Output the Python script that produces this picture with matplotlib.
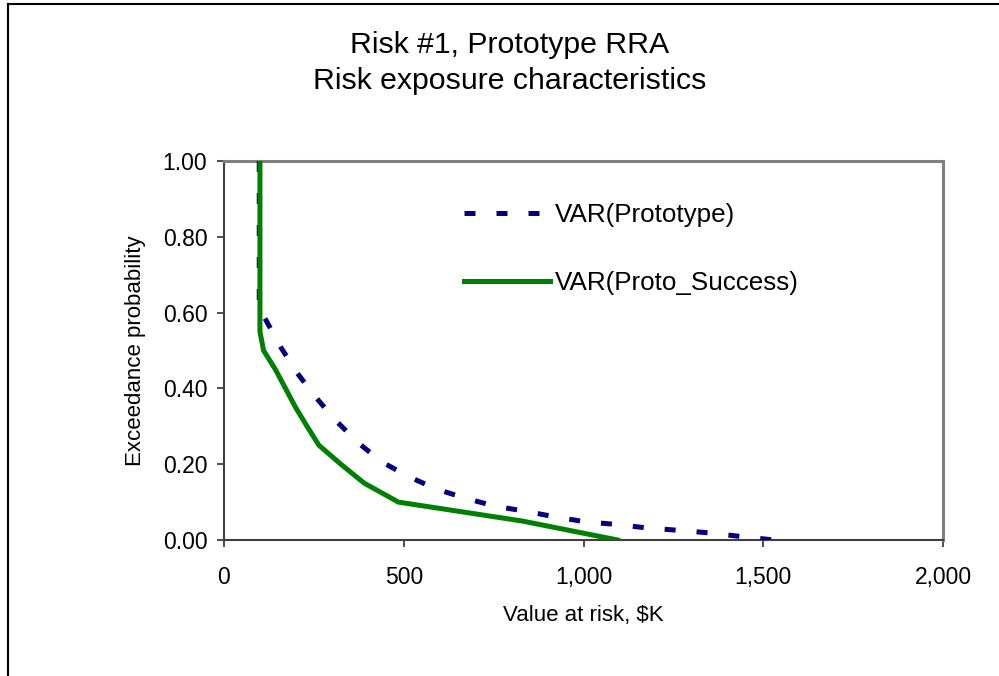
import matplotlib
matplotlib.use("Agg")
import matplotlib.pyplot as plt
from matplotlib.lines import Line2D

plt.rcParams["font.family"] = ["Liberation Sans", "DejaVu Sans"]

# ---------- data -----------------------------------------------------------
title_lines = ["Risk #1, Prototype RRA", "Risk exposure characteristics"]
x_label = "Value at risk, $K"
y_label = "Exceedance probability"

proto_label = "VAR(Prototype)"
proto_x = [98, 98, 111, 157, 204, 255, 310, 375, 439, 514, 592, 672, 755,
           838, 921, 1005, 1092, 1175, 1258, 1347, 1431, 1530]
proto_y = [1.00, 0.60, 0.59, 0.51, 0.44, 0.377, 0.316, 0.255, 0.206, 0.167,
           0.134, 0.110, 0.089, 0.076, 0.061, 0.048, 0.041, 0.032, 0.026,
           0.019, 0.010, 0.0]

success_label = "VAR(Proto_Success)"
success_x = [100, 100, 110, 143, 171, 199, 231, 264, 325, 390, 485, 830, 1095]
success_y = [1.00, 0.55, 0.50, 0.45, 0.40, 0.35, 0.30, 0.25, 0.20, 0.15,
             0.10, 0.05, 0.0]

x_ticks = [0, 500, 1000, 1500, 2000]
y_ticks = [0.0, 0.2, 0.4, 0.6, 0.8, 1.0]

# ---------- figure ---------------------------------------------------------
fig = plt.figure(figsize=(9.99, 6.76), dpi=100)
ax = fig.add_axes([224 / 999, 1 - 540 / 676, 719 / 999, 379 / 676])

(proto_line,) = ax.plot(proto_x, proto_y, color="#000080", lw=3.6,
                        dashes=(2.2, 4.2), dash_capstyle="butt", zorder=3)
(succ_line,) = ax.plot(success_x, success_y, color="#008000", lw=3.6,
                       solid_joinstyle="miter", zorder=4)

ax.set_xlim(0, 2000)
ax.set_ylim(0, 1)
ax.set_xticks(x_ticks)
ax.set_xticklabels([f"{v:,.0f}" for v in x_ticks])
ax.set_yticks(y_ticks)
ax.set_yticklabels([f"{v:.2f}" for v in y_ticks])
ax.tick_params(axis="both", direction="out", length=5, width=1.2,
               color="#303030", labelsize=16.5)
ax.tick_params(axis="x", pad=14)
ax.tick_params(axis="y", pad=7)

for side in ("left", "bottom"):
    ax.spines[side].set_color("#404040")
    ax.spines[side].set_linewidth(1.5)
for side in ("top", "right"):
    ax.spines[side].set_color("#808080")
    ax.spines[side].set_linewidth(2.2)

ax.set_xlabel(x_label, fontsize=16, labelpad=11)
ax.set_ylabel(y_label, fontsize=16, labelpad=12)

leg = ax.legend([proto_line, succ_line], [proto_label, success_label],
                loc="upper left", bbox_to_anchor=(0.3195, 0.917),
                frameon=False, fontsize=18.7, handlelength=3.3,
                handletextpad=0.2, labelspacing=1.69, borderaxespad=0)

fig.text(0.5105, 1 - 45 / 676, title_lines[0], ha="center", va="center",
         fontsize=21.8)
fig.text(0.5105, 1 - 81 / 676, title_lines[1], ha="center", va="center",
         fontsize=21.8)

# chart-area border (top and left edges visible)
fig.add_artist(Line2D([8 / 999, 1.0], [1 - 4 / 676, 1 - 4 / 676],
                      transform=fig.transFigure, color="black", lw=1.5))
fig.add_artist(Line2D([8 / 999, 8 / 999], [0.0, 1 - 4 / 676],
                      transform=fig.transFigure, color="black", lw=1.5))

fig.savefig("out.png", dpi=100)
